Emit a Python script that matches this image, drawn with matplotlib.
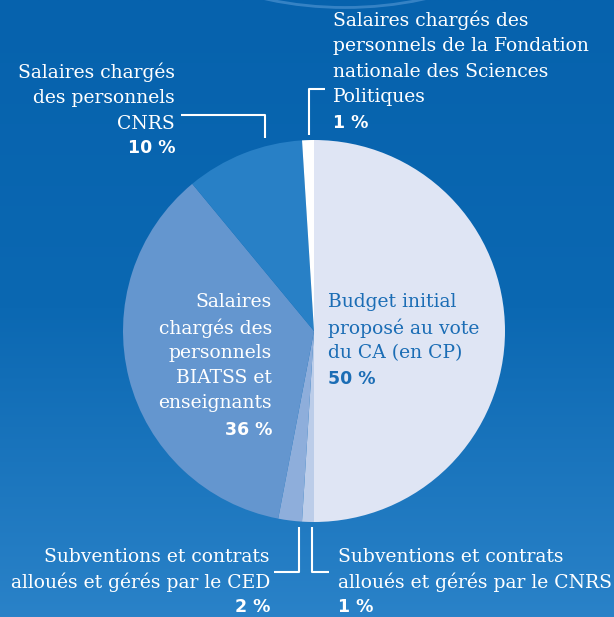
import numpy as np
import matplotlib
matplotlib.use("Agg")
import matplotlib.pyplot as plt
from matplotlib.patches import Arc
from matplotlib.colors import LinearSegmentedColormap

categories = [
    "Budget initial proposé au vote du CA (en CP)",
    "Subventions et contrats alloués et gérés par le CNRS",
    "Subventions et contrats alloués et gérés par le CED",
    "Salaires chargés des personnels BIATSS et enseignants",
    "Salaires chargés des personnels CNRS",
    "Salaires chargés des personnels de la Fondation nationale des Sciences Politiques",
]
values = [50, 1, 2, 36, 10, 1]
pct_labels = ["50 %", "1 %", "2 %", "36 %", "10 %", "1 %"]
colors = ["#dfe5f4", "#bccde9", "#8eaedb", "#6496cf", "#2880c6", "#ffffff"]

W, H = 614, 617
fig = plt.figure(figsize=(W / 100, H / 100), dpi=100)

# background gradient
bg = fig.add_axes([0, 0, 1, 1])
grad = np.linspace(0, 1, 256).reshape(-1, 1)
cmap = LinearSegmentedColormap.from_list("bg", ["#0662ad", "#0b68b2", "#2a82c8"])
bg.imshow(grad, aspect="auto", cmap=cmap, extent=[0, W, 0, H], origin="upper")
bg.set_xlim(0, W)
bg.set_ylim(0, H)
bg.axis("off")

ax = fig.add_axes([0, 0, 1, 1], facecolor="none")

def Y(yp):
    return H - yp

# faint arc at top
ax.add_patch(Arc((345, Y(-200)), 560, 415, theta1=200, theta2=340,
                 color="#4a90cf", lw=2, alpha=0.7))

ax.pie(values, colors=colors, startangle=90, counterclock=False,
       center=(314, Y(331)), radius=191, frame=True,
       wedgeprops=dict(linewidth=0))
ax.set_xlim(0, W)
ax.set_ylim(0, H)
ax.axis("off")

serif = "DejaVu Serif"
fs = 13.5
pfs = 12.5

def block(lines, x, ys, ha, color, pct, pct_y):
    for line, y in zip(lines, ys):
        ax.text(x, Y(y), line, ha=ha, va="center", fontsize=fs,
                family=serif, color=color)
    ax.text(x, Y(pct_y), pct, ha=ha, va="center", fontsize=pfs,
            family="DejaVu Sans", fontweight="bold", color=color)

white = "white"
block(["Salaires chargés des", "personnels de la Fondation",
       "nationale des Sciences", "Politiques"],
      333, [20, 46, 72, 97], "left", white, pct_labels[5], 123)
block(["Salaires chargés", "des personnels", "CNRS"],
      175, [72, 98, 124], "right", white, pct_labels[4], 148)
block(["Salaires", "chargés des", "personnels", "BIATSS et", "enseignants"],
      272, [302, 328, 353, 378, 403], "right", white, pct_labels[3], 430)
block(["Budget initial", "proposé au vote", "du CA (en CP)"],
      328, [302, 328, 353], "left", "#1b6db5", pct_labels[0], 379)
block(["Subventions et contrats", "alloués et gérés par le CED"],
      270, [557, 582], "right", white, pct_labels[2], 607)
block(["Subventions et contrats", "alloués et gérés par le CNRS"],
      338, [557, 582], "left", white, pct_labels[1], 607)

# leader lines
lk = dict(color="white", lw=1.5, solid_capstyle="butt")
ax.plot([181, 265, 265], [Y(115), Y(115), Y(138)], **lk)
ax.plot([309, 309, 325], [Y(135), Y(89), Y(89)], **lk)
ax.plot([299, 299, 274], [Y(527), Y(572), Y(572)], **lk)
ax.plot([312, 312, 329], [Y(527), Y(572), Y(572)], **lk)

fig.savefig("out.png", dpi=100)
